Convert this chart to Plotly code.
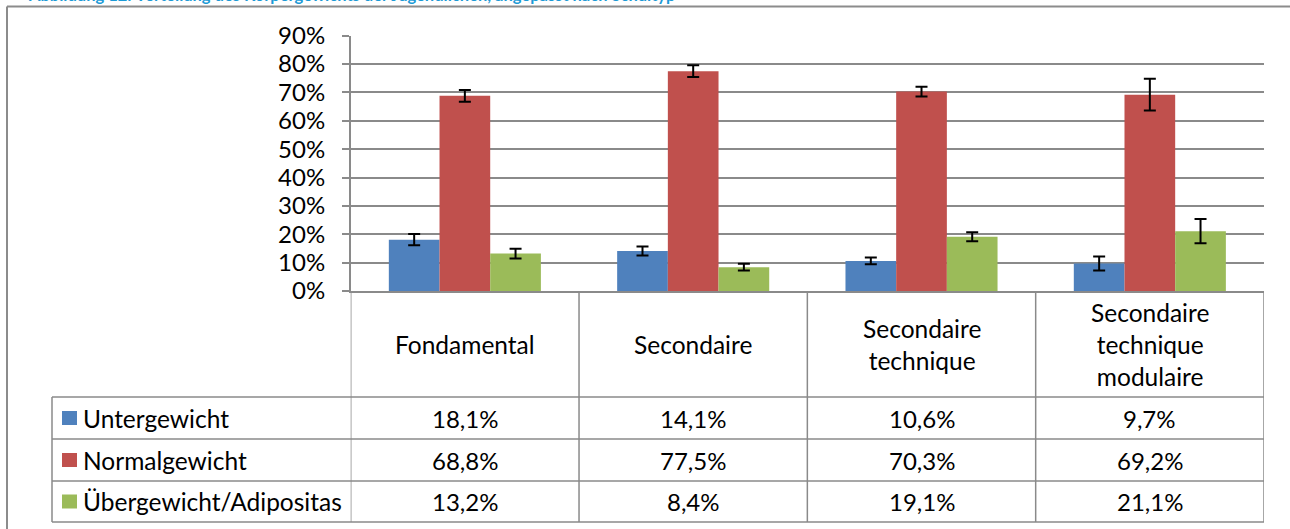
import plotly.graph_objects as go

# ---------------- data ----------------
categories = ["Fondamental", "Secondaire", "Secondaire technique", "Secondaire technique modulaire"]
header_labels = ["Fondamental", "Secondaire", "Secondaire<br>technique", "Secondaire<br>technique<br>modulaire"]
series_names = ["Untergewicht", "Normalgewicht", "Übergewicht/Adipositas"]
under_vals = [18.1, 14.1, 10.6, 9.7]
normal_vals = [68.8, 77.5, 70.3, 69.2]
over_vals = [13.2, 8.4, 19.1, 21.1]
under_err = [2.0, 1.6, 1.2, 2.5]
normal_err = [2.1, 2.1, 1.7, 5.6]
over_err = [1.7, 1.2, 1.6, 4.3]
y_tick_vals = [0, 10, 20, 30, 40, 50, 60, 70, 80, 90]
y_tick_text = ["0%", "10%", "20%", "30%", "40%", "50%", "60%", "70%", "80%", "90%"]
title_text = "Abbildung 12: Verteilung des Körpergewichts der Jugendlichen, angepasst nach Schultyp"

series_vals = [under_vals, normal_vals, over_vals]
series_errs = [under_err, normal_err, over_err]
colors = ["#4F81BD", "#C0504D", "#9BBB59"]

# ---------------- geometry helpers ----------------
W, H = 1290, 529
FONT = "Lato, Carlito, Calibri, sans-serif"
FS = 24
FS_LAB = 24.5
GRID = "#8A8A8A"


def px(x):
    return x / W


def py(y):
    return 1 - y / H


x_left, x_right = 350.7, 1264
y_zero, y_top = 291, 35.7
table_left = 52
row_lines = [397, 439, 481, 522]
header_mid = (y_zero + row_lines[0]) / 2

fig = go.Figure()
for name, vals, errs, col in zip(series_names, series_vals, series_errs, colors):
    fig.add_trace(go.Bar(
        x=list(range(len(categories))), y=vals, name=name,
        marker=dict(color=col, line=dict(width=0)),
        error_y=dict(type="data", array=errs, visible=True, color="black", thickness=2, width=6),
        hoverinfo="skip",
    ))

shapes = []
# outer frame (left and top edges visible)
shapes.append(dict(type="line", xref="paper", yref="paper", x0=px(7), x1=px(7), y0=py(6.5), y1=0,
                   line=dict(color="#8C8C8C", width=2)))
shapes.append(dict(type="line", xref="paper", yref="paper", x0=px(7), x1=1, y0=py(6.5), y1=py(6.5),
                   line=dict(color="#8C8C8C", width=2)))
# table horizontal lines
for yl in row_lines:
    shapes.append(dict(type="line", xref="paper", yref="paper", x0=px(table_left), x1=px(x_right),
                       y0=py(yl), y1=py(yl), line=dict(color=GRID, width=1.5)))
# left border of legend column
shapes.append(dict(type="line", xref="paper", yref="paper", x0=px(table_left), x1=px(table_left),
                   y0=py(row_lines[0]), y1=py(row_lines[-1]), line=dict(color=GRID, width=1.5)))
# category column boundaries
for b in [-0.5, 0.5, 1.5, 2.5, 3.5]:
    shapes.append(dict(type="line", xref="x", yref="paper", x0=b, x1=b,
                       y0=py(y_zero), y1=py(row_lines[-1]), line=dict(color=GRID, width=1.5)))
annotations = []
for i, (name, col) in enumerate(zip(series_names, colors)):
    yc = (row_lines[i] + row_lines[i + 1]) / 2
    shapes.append(dict(type="rect", xref="paper", yref="paper", x0=px(62), x1=px(77),
                       y0=py(yc + 7), y1=py(yc - 7), line=dict(width=0), fillcolor=col))
    annotations.append(dict(xref="paper", yref="paper", x=px(81), y=py(yc), xanchor="left", yanchor="middle",
                            text=name, showarrow=False, font=dict(family=FONT, size=FS_LAB, color="black")))
    for j, v in enumerate(series_vals[i]):
        annotations.append(dict(xref="x", yref="paper", x=j, y=py(yc), xanchor="center", yanchor="middle",
                                text=f"{v:.1f}%".replace(".", ","), showarrow=False,
                                font=dict(family=FONT, size=FS, color="black")))
for j, lab in enumerate(header_labels):
    annotations.append(dict(xref="x", yref="paper", x=j, y=py(header_mid), xanchor="center", yanchor="middle",
                            text=lab, showarrow=False, font=dict(family=FONT, size=FS_LAB, color="black")))
# title, cut off at the top edge as in the source image
annotations.append(dict(xref="paper", yref="paper", x=px(26), y=py(7), xanchor="left", yanchor="bottom",
                        text=f"<b>{title_text}</b>", showarrow=False,
                        font=dict(family=FONT, size=16.5, color="#1C9AD6")))

fig.update_layout(
    width=W, height=H,
    margin=dict(l=0, r=0, t=0, b=0, pad=0),
    paper_bgcolor="white", plot_bgcolor="white",
    barmode="group", bargap=0.334, bargroupgap=0,
    showlegend=False,
    shapes=shapes, annotations=annotations,
    xaxis=dict(domain=[px(x_left), px(x_right)], range=[-0.5, 3.5], showticklabels=False,
               showgrid=False, zeroline=False, showline=True, linecolor=GRID, linewidth=1.5, ticks="",
               automargin=False),
    yaxis=dict(domain=[py(y_zero), py(y_top)], range=[0, 90], tickmode="array",
               tickvals=y_tick_vals, ticktext=y_tick_text,
               showgrid=True, gridcolor=GRID, gridwidth=1.5, zeroline=False,
               showline=True, linecolor=GRID, linewidth=1.5,
               ticks="outside", ticklen=7, tickcolor=GRID, tickwidth=1.5,
               ticklabelstandoff=12, automargin=False,
               tickfont=dict(family=FONT, size=FS, color="black")),
)

fig.write_html("out.html", config={"displayModeBar": False},
               post_script="document.body.style.margin='0px';")
